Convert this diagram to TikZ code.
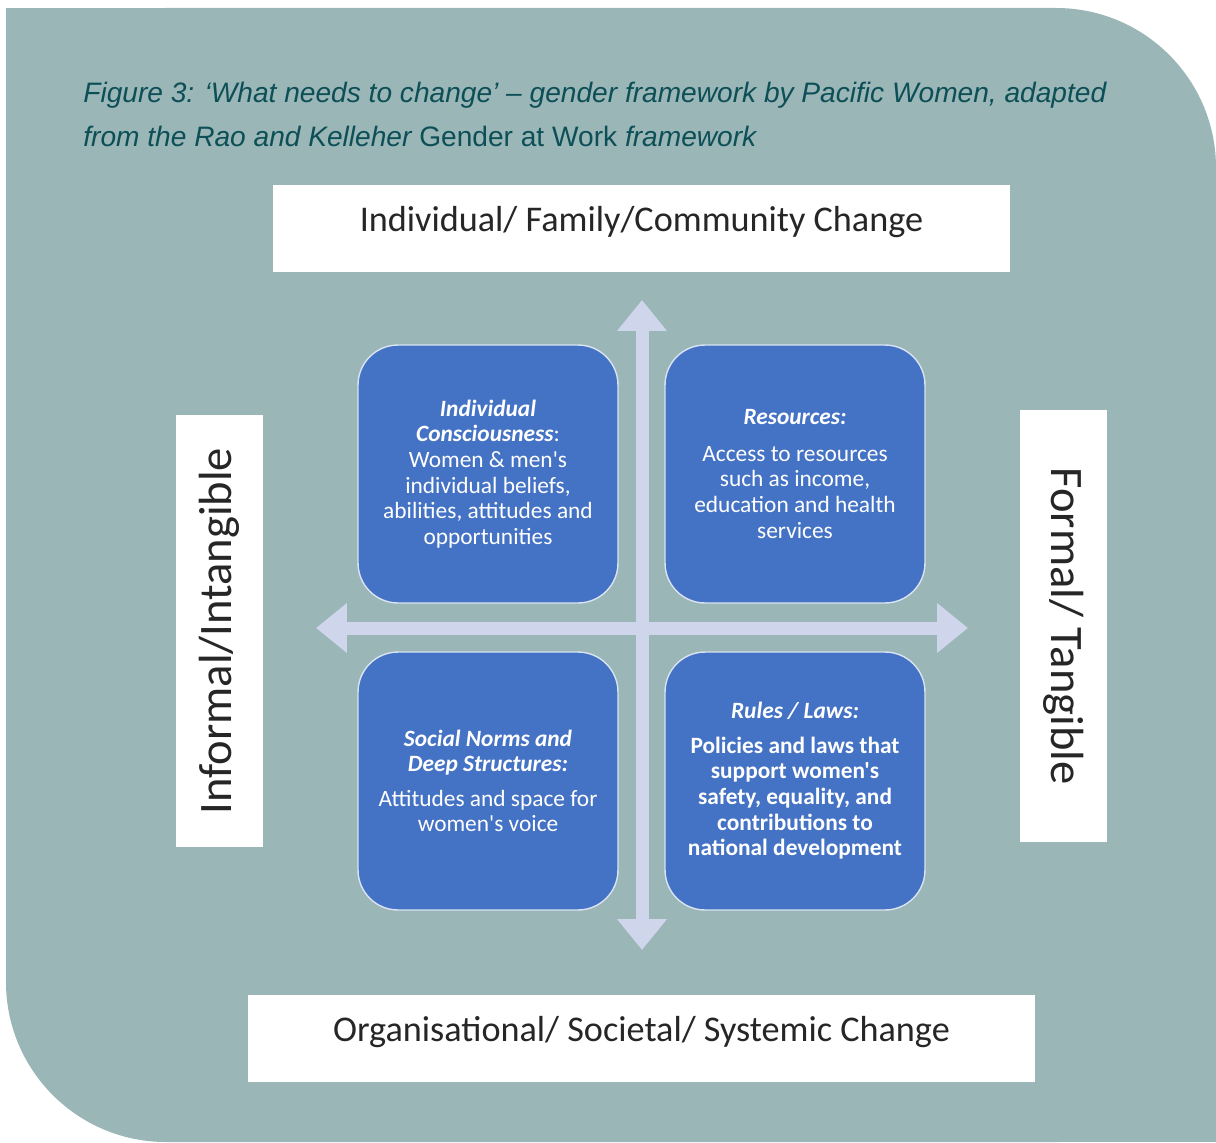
\documentclass[tikz,border=0pt]{standalone}
\usepackage{fontspec}
\usepackage{tikz}
\usetikzlibrary{arrows.meta,shapes}
\newfontfamily\calibrifont{Carlito}
\newfontfamily\captionfont{Liberation Sans}
\definecolor{panelgrey}{HTML}{9AB6B7}
\definecolor{quadblue}{HTML}{4472C4}
\definecolor{axislilac}{HTML}{CFD5EA}
\definecolor{captionteal}{HTML}{0D4F57}
\tikzstyle{caption}=[inner sep=0pt,text=captionteal,font=\captionfont\itshape\fontsize{16}{25}\selectfont]
\tikzstyle{quadrant}=[rectangle,rounded corners=0.8cm,fill=quadblue,draw=white!80!quadblue,line width=0.8pt,minimum width=5.2cm,minimum height=5.16cm,text=white,align=center,font=\calibrifont\fontsize{13.3}{14.6}\selectfont]
\tikzstyle{changebox}=[rectangle,fill=white,inner sep=0pt,minimum height=1.74cm,text depth=10.6pt,text=black!85,font=\calibrifont\fontsize{20.6}{24}\selectfont]
\tikzstyle{sidebox}=[rectangle,fill=white,inner sep=0pt,minimum height=1.74cm,minimum width=8.64cm,text=black!85,font=\calibrifont\fontsize{26.5}{30}\selectfont]
\tikzstyle{axisarrow}=[draw=axislilac,line width=0.26cm,{Triangle[width=0.96cm,length=0.62cm]}-{Triangle[width=0.96cm,length=0.62cm]}]
\newcommand{\hd}[1]{\textbf{\textit{#1}}}

\begin{document}
\begin{tikzpicture}[x=0.02cm,y=-0.02cm]

    \useasboundingbox (0,0) rectangle (1216,1142);

    % panel behind everything
    \fill[panelgrey, rounded corners=3.2cm] (6,8) rectangle (1216,1142);
    \fill[panelgrey] (6,8) rectangle (400,400);
    \fill[panelgrey] (800,800) rectangle (1216,1142);

    \node[caption, anchor=base west] (caption1) at (83,103) {Figure 3: ‘What needs to change’ – gender framework by Pacific Women, adapted};
    \node[caption, anchor=base west] (caption2) at (83,147) {from the Rao and Kelleher {\upshape Gender at Work} framework};

    % the two axes
    \coordinate (up) at (642,300);
    \coordinate (down) at (642,950);
    \coordinate (left) at (316,628);
    \coordinate (right) at (968,628);

    \draw[axisarrow] (down) -- (up);
    \draw[axisarrow] (left) -- (right);

    \foreach \x/\y/\name/\txt in {
        488/474/consciousness/{\hd{Individual}\\\hd{Consciousness}:\\Women \& men's\\individual beliefs,\\abilities, attitudes and\\opportunities},
        795/474/resources/{\hd{Resources:}\\[6pt]Access to resources\\such as income,\\education and health\\services},
        488/781/norms/{\hd{Social Norms and}\\\hd{Deep Structures:}\\[5pt]Attitudes and space for\\women's voice},
        795/781/rules/{\hd{Rules {/} Laws:}\\[5pt]\textbf{Policies and laws that}\\\textbf{support women's}\\\textbf{safety, equality, and}\\\textbf{contributions to}\\\textbf{national development}}}
        \node[quadrant] (\name) at (\x,\y) {\txt};

    \node[changebox, minimum width=14.74cm] (individual) at (641.5,228.5) {Individual/ Family/Community Change};
    \node[changebox, minimum width=15.74cm] (systemic) at (641.5,1038.5) {Organisational/ Societal/ Systemic Change};
    \node[sidebox, rotate=90] (informal) at (219.5,631) {Informal/Intangible};
    \node[sidebox, rotate=-90] (formal) at (1063.5,626) {Formal/ Tangible};

\end{tikzpicture}
\end{document}
